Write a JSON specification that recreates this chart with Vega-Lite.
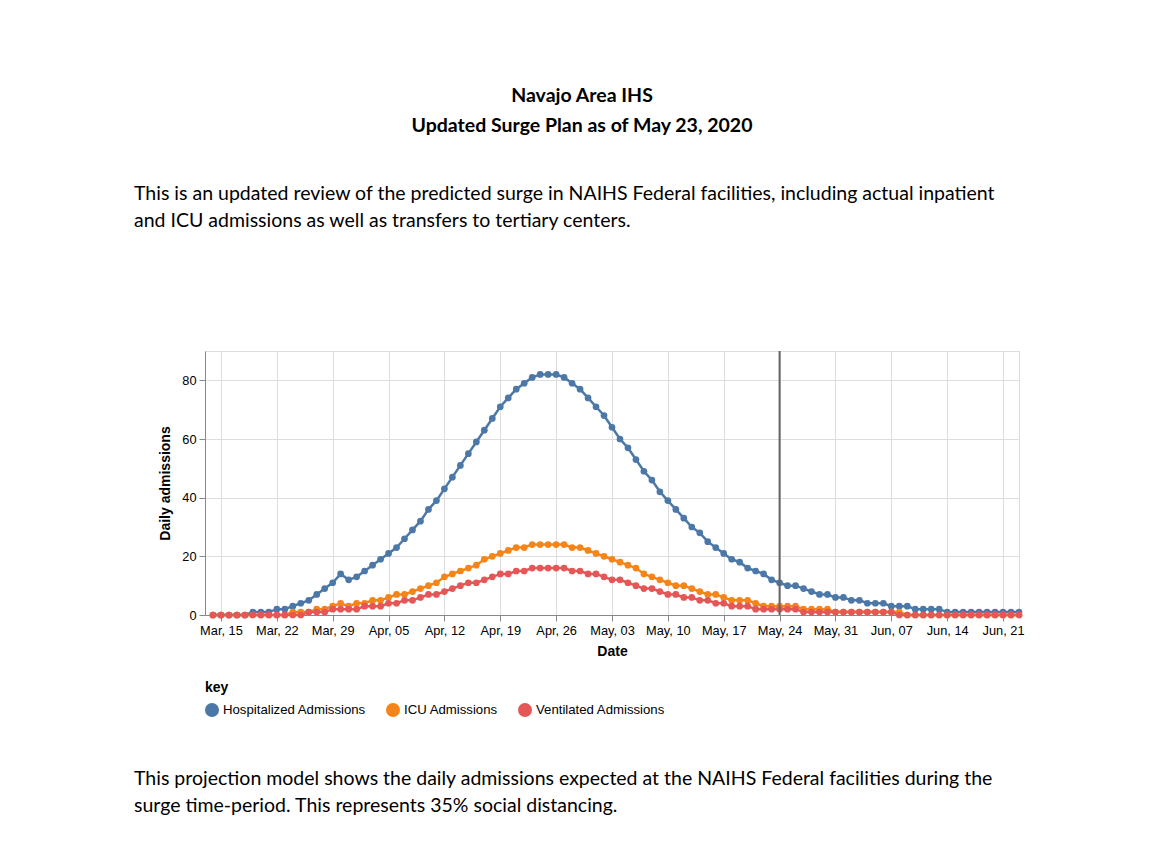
{
  "$schema": "https://vega.github.io/schema/vega-lite/v6.json",
  "background": "white",
  "padding": {"left": 133, "top": 85, "right": 10, "bottom": 10},
  "config": {
    "font": "Liberation Sans",
    "view": {"stroke": "#ddd"},
    "axis": {"labelFontSize": 12.8, "titleFontSize": 14, "tickSize": 6, "labelPadding": 3, "gridColor": "#ddd", "domainColor": "#888", "tickColor": "#888"},
    "axisX": {"titlePadding": 8},
    "axisY": {"titlePadding": 9},
    "legend": {"titleFontSize": 14, "labelFontSize": 13.2, "symbolSize": 196, "symbolType": "circle", "columnPadding": 20, "titlePadding": 8, "offset": 22}
  },
  "title": {
    "text": ["Navajo Area IHS", "Updated Surge Plan as of May 23, 2020"],
    "font": "Lato", "fontSize": 19.5, "fontWeight": "bold", "lineHeight": 30,
    "anchor": "middle", "frame": "group", "dx": -30, "offset": 47, "color": "#000"
  },
  "spacing": 51,
  "resolve": {"legend": {"color": "independent"}, "scale": {"color": "independent"}},
  "vconcat": [
    {
      "title": {
        "text": ["This is an updated review of the predicted surge in NAIHS Federal facilities, including actual inpatient", "and ICU admissions as well as transfers to tertiary centers."],
        "font": "Lato", "fontSize": 19.5, "fontWeight": "normal", "lineHeight": 27,
        "anchor": "start", "frame": "group", "dx": -71, "offset": 119, "color": "#000"
      },
      "width": 814,
      "height": 264,
      "data": {"values": [
        {"date":"2020-03-14","key":"Hospitalized Admissions","value":0},
        {"date":"2020-03-15","key":"Hospitalized Admissions","value":0},
        {"date":"2020-03-16","key":"Hospitalized Admissions","value":0},
        {"date":"2020-03-17","key":"Hospitalized Admissions","value":0},
        {"date":"2020-03-18","key":"Hospitalized Admissions","value":0},
        {"date":"2020-03-19","key":"Hospitalized Admissions","value":1},
        {"date":"2020-03-20","key":"Hospitalized Admissions","value":1},
        {"date":"2020-03-21","key":"Hospitalized Admissions","value":1},
        {"date":"2020-03-22","key":"Hospitalized Admissions","value":2},
        {"date":"2020-03-23","key":"Hospitalized Admissions","value":2},
        {"date":"2020-03-24","key":"Hospitalized Admissions","value":3},
        {"date":"2020-03-25","key":"Hospitalized Admissions","value":4},
        {"date":"2020-03-26","key":"Hospitalized Admissions","value":5},
        {"date":"2020-03-27","key":"Hospitalized Admissions","value":7},
        {"date":"2020-03-28","key":"Hospitalized Admissions","value":9},
        {"date":"2020-03-29","key":"Hospitalized Admissions","value":11},
        {"date":"2020-03-30","key":"Hospitalized Admissions","value":14},
        {"date":"2020-03-31","key":"Hospitalized Admissions","value":12},
        {"date":"2020-04-01","key":"Hospitalized Admissions","value":13},
        {"date":"2020-04-02","key":"Hospitalized Admissions","value":15},
        {"date":"2020-04-03","key":"Hospitalized Admissions","value":17},
        {"date":"2020-04-04","key":"Hospitalized Admissions","value":19},
        {"date":"2020-04-05","key":"Hospitalized Admissions","value":21},
        {"date":"2020-04-06","key":"Hospitalized Admissions","value":23},
        {"date":"2020-04-07","key":"Hospitalized Admissions","value":26},
        {"date":"2020-04-08","key":"Hospitalized Admissions","value":29},
        {"date":"2020-04-09","key":"Hospitalized Admissions","value":32},
        {"date":"2020-04-10","key":"Hospitalized Admissions","value":36},
        {"date":"2020-04-11","key":"Hospitalized Admissions","value":39},
        {"date":"2020-04-12","key":"Hospitalized Admissions","value":43},
        {"date":"2020-04-13","key":"Hospitalized Admissions","value":47},
        {"date":"2020-04-14","key":"Hospitalized Admissions","value":51},
        {"date":"2020-04-15","key":"Hospitalized Admissions","value":55},
        {"date":"2020-04-16","key":"Hospitalized Admissions","value":59},
        {"date":"2020-04-17","key":"Hospitalized Admissions","value":63},
        {"date":"2020-04-18","key":"Hospitalized Admissions","value":67},
        {"date":"2020-04-19","key":"Hospitalized Admissions","value":71},
        {"date":"2020-04-20","key":"Hospitalized Admissions","value":74},
        {"date":"2020-04-21","key":"Hospitalized Admissions","value":77},
        {"date":"2020-04-22","key":"Hospitalized Admissions","value":79},
        {"date":"2020-04-23","key":"Hospitalized Admissions","value":81},
        {"date":"2020-04-24","key":"Hospitalized Admissions","value":82},
        {"date":"2020-04-25","key":"Hospitalized Admissions","value":82},
        {"date":"2020-04-26","key":"Hospitalized Admissions","value":82},
        {"date":"2020-04-27","key":"Hospitalized Admissions","value":81},
        {"date":"2020-04-28","key":"Hospitalized Admissions","value":79},
        {"date":"2020-04-29","key":"Hospitalized Admissions","value":77},
        {"date":"2020-04-30","key":"Hospitalized Admissions","value":74},
        {"date":"2020-05-01","key":"Hospitalized Admissions","value":71},
        {"date":"2020-05-02","key":"Hospitalized Admissions","value":68},
        {"date":"2020-05-03","key":"Hospitalized Admissions","value":64},
        {"date":"2020-05-04","key":"Hospitalized Admissions","value":60},
        {"date":"2020-05-05","key":"Hospitalized Admissions","value":57},
        {"date":"2020-05-06","key":"Hospitalized Admissions","value":53},
        {"date":"2020-05-07","key":"Hospitalized Admissions","value":49},
        {"date":"2020-05-08","key":"Hospitalized Admissions","value":46},
        {"date":"2020-05-09","key":"Hospitalized Admissions","value":42},
        {"date":"2020-05-10","key":"Hospitalized Admissions","value":39},
        {"date":"2020-05-11","key":"Hospitalized Admissions","value":36},
        {"date":"2020-05-12","key":"Hospitalized Admissions","value":33},
        {"date":"2020-05-13","key":"Hospitalized Admissions","value":30},
        {"date":"2020-05-14","key":"Hospitalized Admissions","value":28},
        {"date":"2020-05-15","key":"Hospitalized Admissions","value":25},
        {"date":"2020-05-16","key":"Hospitalized Admissions","value":23},
        {"date":"2020-05-17","key":"Hospitalized Admissions","value":21},
        {"date":"2020-05-18","key":"Hospitalized Admissions","value":19},
        {"date":"2020-05-19","key":"Hospitalized Admissions","value":18},
        {"date":"2020-05-20","key":"Hospitalized Admissions","value":16},
        {"date":"2020-05-21","key":"Hospitalized Admissions","value":15},
        {"date":"2020-05-22","key":"Hospitalized Admissions","value":14},
        {"date":"2020-05-23","key":"Hospitalized Admissions","value":12},
        {"date":"2020-05-24","key":"Hospitalized Admissions","value":11},
        {"date":"2020-05-25","key":"Hospitalized Admissions","value":10},
        {"date":"2020-05-26","key":"Hospitalized Admissions","value":10},
        {"date":"2020-05-27","key":"Hospitalized Admissions","value":9},
        {"date":"2020-05-28","key":"Hospitalized Admissions","value":8},
        {"date":"2020-05-29","key":"Hospitalized Admissions","value":7},
        {"date":"2020-05-30","key":"Hospitalized Admissions","value":7},
        {"date":"2020-05-31","key":"Hospitalized Admissions","value":6},
        {"date":"2020-06-01","key":"Hospitalized Admissions","value":6},
        {"date":"2020-06-02","key":"Hospitalized Admissions","value":5},
        {"date":"2020-06-03","key":"Hospitalized Admissions","value":5},
        {"date":"2020-06-04","key":"Hospitalized Admissions","value":4},
        {"date":"2020-06-05","key":"Hospitalized Admissions","value":4},
        {"date":"2020-06-06","key":"Hospitalized Admissions","value":4},
        {"date":"2020-06-07","key":"Hospitalized Admissions","value":3},
        {"date":"2020-06-08","key":"Hospitalized Admissions","value":3},
        {"date":"2020-06-09","key":"Hospitalized Admissions","value":3},
        {"date":"2020-06-10","key":"Hospitalized Admissions","value":2},
        {"date":"2020-06-11","key":"Hospitalized Admissions","value":2},
        {"date":"2020-06-12","key":"Hospitalized Admissions","value":2},
        {"date":"2020-06-13","key":"Hospitalized Admissions","value":2},
        {"date":"2020-06-14","key":"Hospitalized Admissions","value":1},
        {"date":"2020-06-15","key":"Hospitalized Admissions","value":1},
        {"date":"2020-06-16","key":"Hospitalized Admissions","value":1},
        {"date":"2020-06-17","key":"Hospitalized Admissions","value":1},
        {"date":"2020-06-18","key":"Hospitalized Admissions","value":1},
        {"date":"2020-06-19","key":"Hospitalized Admissions","value":1},
        {"date":"2020-06-20","key":"Hospitalized Admissions","value":1},
        {"date":"2020-06-21","key":"Hospitalized Admissions","value":1},
        {"date":"2020-06-22","key":"Hospitalized Admissions","value":1},
        {"date":"2020-06-23","key":"Hospitalized Admissions","value":1},
        {"date":"2020-03-14","key":"ICU Admissions","value":0},
        {"date":"2020-03-15","key":"ICU Admissions","value":0},
        {"date":"2020-03-16","key":"ICU Admissions","value":0},
        {"date":"2020-03-17","key":"ICU Admissions","value":0},
        {"date":"2020-03-18","key":"ICU Admissions","value":0},
        {"date":"2020-03-19","key":"ICU Admissions","value":0},
        {"date":"2020-03-20","key":"ICU Admissions","value":0},
        {"date":"2020-03-21","key":"ICU Admissions","value":0},
        {"date":"2020-03-22","key":"ICU Admissions","value":0},
        {"date":"2020-03-23","key":"ICU Admissions","value":0},
        {"date":"2020-03-24","key":"ICU Admissions","value":1},
        {"date":"2020-03-25","key":"ICU Admissions","value":1},
        {"date":"2020-03-26","key":"ICU Admissions","value":1},
        {"date":"2020-03-27","key":"ICU Admissions","value":2},
        {"date":"2020-03-28","key":"ICU Admissions","value":2},
        {"date":"2020-03-29","key":"ICU Admissions","value":3},
        {"date":"2020-03-30","key":"ICU Admissions","value":4},
        {"date":"2020-03-31","key":"ICU Admissions","value":3},
        {"date":"2020-04-01","key":"ICU Admissions","value":4},
        {"date":"2020-04-02","key":"ICU Admissions","value":4},
        {"date":"2020-04-03","key":"ICU Admissions","value":5},
        {"date":"2020-04-04","key":"ICU Admissions","value":5},
        {"date":"2020-04-05","key":"ICU Admissions","value":6},
        {"date":"2020-04-06","key":"ICU Admissions","value":7},
        {"date":"2020-04-07","key":"ICU Admissions","value":7},
        {"date":"2020-04-08","key":"ICU Admissions","value":8},
        {"date":"2020-04-09","key":"ICU Admissions","value":9},
        {"date":"2020-04-10","key":"ICU Admissions","value":10},
        {"date":"2020-04-11","key":"ICU Admissions","value":11},
        {"date":"2020-04-12","key":"ICU Admissions","value":13},
        {"date":"2020-04-13","key":"ICU Admissions","value":14},
        {"date":"2020-04-14","key":"ICU Admissions","value":15},
        {"date":"2020-04-15","key":"ICU Admissions","value":16},
        {"date":"2020-04-16","key":"ICU Admissions","value":17},
        {"date":"2020-04-17","key":"ICU Admissions","value":19},
        {"date":"2020-04-18","key":"ICU Admissions","value":20},
        {"date":"2020-04-19","key":"ICU Admissions","value":21},
        {"date":"2020-04-20","key":"ICU Admissions","value":22},
        {"date":"2020-04-21","key":"ICU Admissions","value":23},
        {"date":"2020-04-22","key":"ICU Admissions","value":23},
        {"date":"2020-04-23","key":"ICU Admissions","value":24},
        {"date":"2020-04-24","key":"ICU Admissions","value":24},
        {"date":"2020-04-25","key":"ICU Admissions","value":24},
        {"date":"2020-04-26","key":"ICU Admissions","value":24},
        {"date":"2020-04-27","key":"ICU Admissions","value":24},
        {"date":"2020-04-28","key":"ICU Admissions","value":23},
        {"date":"2020-04-29","key":"ICU Admissions","value":23},
        {"date":"2020-04-30","key":"ICU Admissions","value":22},
        {"date":"2020-05-01","key":"ICU Admissions","value":21},
        {"date":"2020-05-02","key":"ICU Admissions","value":20},
        {"date":"2020-05-03","key":"ICU Admissions","value":19},
        {"date":"2020-05-04","key":"ICU Admissions","value":18},
        {"date":"2020-05-05","key":"ICU Admissions","value":17},
        {"date":"2020-05-06","key":"ICU Admissions","value":16},
        {"date":"2020-05-07","key":"ICU Admissions","value":14},
        {"date":"2020-05-08","key":"ICU Admissions","value":13},
        {"date":"2020-05-09","key":"ICU Admissions","value":12},
        {"date":"2020-05-10","key":"ICU Admissions","value":11},
        {"date":"2020-05-11","key":"ICU Admissions","value":10},
        {"date":"2020-05-12","key":"ICU Admissions","value":10},
        {"date":"2020-05-13","key":"ICU Admissions","value":9},
        {"date":"2020-05-14","key":"ICU Admissions","value":8},
        {"date":"2020-05-15","key":"ICU Admissions","value":7},
        {"date":"2020-05-16","key":"ICU Admissions","value":7},
        {"date":"2020-05-17","key":"ICU Admissions","value":6},
        {"date":"2020-05-18","key":"ICU Admissions","value":5},
        {"date":"2020-05-19","key":"ICU Admissions","value":5},
        {"date":"2020-05-20","key":"ICU Admissions","value":5},
        {"date":"2020-05-21","key":"ICU Admissions","value":4},
        {"date":"2020-05-22","key":"ICU Admissions","value":3},
        {"date":"2020-05-23","key":"ICU Admissions","value":3},
        {"date":"2020-05-24","key":"ICU Admissions","value":3},
        {"date":"2020-05-25","key":"ICU Admissions","value":3},
        {"date":"2020-05-26","key":"ICU Admissions","value":3},
        {"date":"2020-05-27","key":"ICU Admissions","value":2},
        {"date":"2020-05-28","key":"ICU Admissions","value":2},
        {"date":"2020-05-29","key":"ICU Admissions","value":2},
        {"date":"2020-05-30","key":"ICU Admissions","value":2},
        {"date":"2020-05-31","key":"ICU Admissions","value":1},
        {"date":"2020-06-01","key":"ICU Admissions","value":1},
        {"date":"2020-06-02","key":"ICU Admissions","value":1},
        {"date":"2020-06-03","key":"ICU Admissions","value":1},
        {"date":"2020-06-04","key":"ICU Admissions","value":1},
        {"date":"2020-06-05","key":"ICU Admissions","value":1},
        {"date":"2020-06-06","key":"ICU Admissions","value":1},
        {"date":"2020-06-07","key":"ICU Admissions","value":1},
        {"date":"2020-06-08","key":"ICU Admissions","value":1},
        {"date":"2020-06-09","key":"ICU Admissions","value":0},
        {"date":"2020-06-10","key":"ICU Admissions","value":0},
        {"date":"2020-06-11","key":"ICU Admissions","value":0},
        {"date":"2020-06-12","key":"ICU Admissions","value":0},
        {"date":"2020-06-13","key":"ICU Admissions","value":0},
        {"date":"2020-06-14","key":"ICU Admissions","value":0},
        {"date":"2020-06-15","key":"ICU Admissions","value":0},
        {"date":"2020-06-16","key":"ICU Admissions","value":0},
        {"date":"2020-06-17","key":"ICU Admissions","value":0},
        {"date":"2020-06-18","key":"ICU Admissions","value":0},
        {"date":"2020-06-19","key":"ICU Admissions","value":0},
        {"date":"2020-06-20","key":"ICU Admissions","value":0},
        {"date":"2020-06-21","key":"ICU Admissions","value":0},
        {"date":"2020-06-22","key":"ICU Admissions","value":0},
        {"date":"2020-06-23","key":"ICU Admissions","value":0},
        {"date":"2020-03-14","key":"Ventilated Admissions","value":0},
        {"date":"2020-03-15","key":"Ventilated Admissions","value":0},
        {"date":"2020-03-16","key":"Ventilated Admissions","value":0},
        {"date":"2020-03-17","key":"Ventilated Admissions","value":0},
        {"date":"2020-03-18","key":"Ventilated Admissions","value":0},
        {"date":"2020-03-19","key":"Ventilated Admissions","value":0},
        {"date":"2020-03-20","key":"Ventilated Admissions","value":0},
        {"date":"2020-03-21","key":"Ventilated Admissions","value":0},
        {"date":"2020-03-22","key":"Ventilated Admissions","value":0},
        {"date":"2020-03-23","key":"Ventilated Admissions","value":0},
        {"date":"2020-03-24","key":"Ventilated Admissions","value":0},
        {"date":"2020-03-25","key":"Ventilated Admissions","value":0},
        {"date":"2020-03-26","key":"Ventilated Admissions","value":1},
        {"date":"2020-03-27","key":"Ventilated Admissions","value":1},
        {"date":"2020-03-28","key":"Ventilated Admissions","value":1},
        {"date":"2020-03-29","key":"Ventilated Admissions","value":2},
        {"date":"2020-03-30","key":"Ventilated Admissions","value":2},
        {"date":"2020-03-31","key":"Ventilated Admissions","value":2},
        {"date":"2020-04-01","key":"Ventilated Admissions","value":2},
        {"date":"2020-04-02","key":"Ventilated Admissions","value":3},
        {"date":"2020-04-03","key":"Ventilated Admissions","value":3},
        {"date":"2020-04-04","key":"Ventilated Admissions","value":3},
        {"date":"2020-04-05","key":"Ventilated Admissions","value":4},
        {"date":"2020-04-06","key":"Ventilated Admissions","value":4},
        {"date":"2020-04-07","key":"Ventilated Admissions","value":5},
        {"date":"2020-04-08","key":"Ventilated Admissions","value":5},
        {"date":"2020-04-09","key":"Ventilated Admissions","value":6},
        {"date":"2020-04-10","key":"Ventilated Admissions","value":7},
        {"date":"2020-04-11","key":"Ventilated Admissions","value":7},
        {"date":"2020-04-12","key":"Ventilated Admissions","value":8},
        {"date":"2020-04-13","key":"Ventilated Admissions","value":9},
        {"date":"2020-04-14","key":"Ventilated Admissions","value":10},
        {"date":"2020-04-15","key":"Ventilated Admissions","value":11},
        {"date":"2020-04-16","key":"Ventilated Admissions","value":11},
        {"date":"2020-04-17","key":"Ventilated Admissions","value":12},
        {"date":"2020-04-18","key":"Ventilated Admissions","value":13},
        {"date":"2020-04-19","key":"Ventilated Admissions","value":14},
        {"date":"2020-04-20","key":"Ventilated Admissions","value":14},
        {"date":"2020-04-21","key":"Ventilated Admissions","value":15},
        {"date":"2020-04-22","key":"Ventilated Admissions","value":15},
        {"date":"2020-04-23","key":"Ventilated Admissions","value":16},
        {"date":"2020-04-24","key":"Ventilated Admissions","value":16},
        {"date":"2020-04-25","key":"Ventilated Admissions","value":16},
        {"date":"2020-04-26","key":"Ventilated Admissions","value":16},
        {"date":"2020-04-27","key":"Ventilated Admissions","value":16},
        {"date":"2020-04-28","key":"Ventilated Admissions","value":15},
        {"date":"2020-04-29","key":"Ventilated Admissions","value":15},
        {"date":"2020-04-30","key":"Ventilated Admissions","value":14},
        {"date":"2020-05-01","key":"Ventilated Admissions","value":14},
        {"date":"2020-05-02","key":"Ventilated Admissions","value":13},
        {"date":"2020-05-03","key":"Ventilated Admissions","value":12},
        {"date":"2020-05-04","key":"Ventilated Admissions","value":12},
        {"date":"2020-05-05","key":"Ventilated Admissions","value":11},
        {"date":"2020-05-06","key":"Ventilated Admissions","value":10},
        {"date":"2020-05-07","key":"Ventilated Admissions","value":9},
        {"date":"2020-05-08","key":"Ventilated Admissions","value":9},
        {"date":"2020-05-09","key":"Ventilated Admissions","value":8},
        {"date":"2020-05-10","key":"Ventilated Admissions","value":7},
        {"date":"2020-05-11","key":"Ventilated Admissions","value":7},
        {"date":"2020-05-12","key":"Ventilated Admissions","value":6},
        {"date":"2020-05-13","key":"Ventilated Admissions","value":6},
        {"date":"2020-05-14","key":"Ventilated Admissions","value":5},
        {"date":"2020-05-15","key":"Ventilated Admissions","value":5},
        {"date":"2020-05-16","key":"Ventilated Admissions","value":4},
        {"date":"2020-05-17","key":"Ventilated Admissions","value":4},
        {"date":"2020-05-18","key":"Ventilated Admissions","value":3},
        {"date":"2020-05-19","key":"Ventilated Admissions","value":3},
        {"date":"2020-05-20","key":"Ventilated Admissions","value":3},
        {"date":"2020-05-21","key":"Ventilated Admissions","value":2},
        {"date":"2020-05-22","key":"Ventilated Admissions","value":2},
        {"date":"2020-05-23","key":"Ventilated Admissions","value":2},
        {"date":"2020-05-24","key":"Ventilated Admissions","value":2},
        {"date":"2020-05-25","key":"Ventilated Admissions","value":2},
        {"date":"2020-05-26","key":"Ventilated Admissions","value":2},
        {"date":"2020-05-27","key":"Ventilated Admissions","value":1},
        {"date":"2020-05-28","key":"Ventilated Admissions","value":1},
        {"date":"2020-05-29","key":"Ventilated Admissions","value":1},
        {"date":"2020-05-30","key":"Ventilated Admissions","value":1},
        {"date":"2020-05-31","key":"Ventilated Admissions","value":1},
        {"date":"2020-06-01","key":"Ventilated Admissions","value":1},
        {"date":"2020-06-02","key":"Ventilated Admissions","value":1},
        {"date":"2020-06-03","key":"Ventilated Admissions","value":1},
        {"date":"2020-06-04","key":"Ventilated Admissions","value":1},
        {"date":"2020-06-05","key":"Ventilated Admissions","value":1},
        {"date":"2020-06-06","key":"Ventilated Admissions","value":1},
        {"date":"2020-06-07","key":"Ventilated Admissions","value":1},
        {"date":"2020-06-08","key":"Ventilated Admissions","value":0},
        {"date":"2020-06-09","key":"Ventilated Admissions","value":0},
        {"date":"2020-06-10","key":"Ventilated Admissions","value":0},
        {"date":"2020-06-11","key":"Ventilated Admissions","value":0},
        {"date":"2020-06-12","key":"Ventilated Admissions","value":0},
        {"date":"2020-06-13","key":"Ventilated Admissions","value":0},
        {"date":"2020-06-14","key":"Ventilated Admissions","value":0},
        {"date":"2020-06-15","key":"Ventilated Admissions","value":0},
        {"date":"2020-06-16","key":"Ventilated Admissions","value":0},
        {"date":"2020-06-17","key":"Ventilated Admissions","value":0},
        {"date":"2020-06-18","key":"Ventilated Admissions","value":0},
        {"date":"2020-06-19","key":"Ventilated Admissions","value":0},
        {"date":"2020-06-20","key":"Ventilated Admissions","value":0},
        {"date":"2020-06-21","key":"Ventilated Admissions","value":0},
        {"date":"2020-06-22","key":"Ventilated Admissions","value":0},
        {"date":"2020-06-23","key":"Ventilated Admissions","value":0}
      ]},
      "layer": [
        {
          "mark": {"type": "line", "strokeWidth": 2.5},
          "encoding": {
            "x": {"field": "date", "type": "temporal", "scale": {"type": "utc", "domain": ["2020-03-13", "2020-06-23"]},
                  "axis": {"title": "Date", "format": "%b, %d", "tickCount": {"interval": "week", "step": 1}, "labelFlush": false, "labelOverlap": false}},
            "y": {"field": "value", "type": "quantitative", "scale": {"domain": [0, 90], "nice": false},
                  "axis": {"title": "Daily admissions", "tickCount": 5}},
            "color": {"field": "key", "type": "nominal", "title": "key",
                      "scale": {"domain": ["Hospitalized Admissions", "ICU Admissions", "Ventilated Admissions"], "range": ["#4c78a8", "#f58518", "#e45756"]},
                      "legend": {"orient": "bottom", "direction": "horizontal", "symbolType": "circle",
                                 "encode": {"symbols": {"update": {"fill": {"scale": "color", "field": "value"}, "stroke": {"scale": "color", "field": "value"}, "strokeWidth": {"value": 0}, "opacity": {"value": 1}}}}}}
          }
        },
        {
          "mark": {"type": "point", "filled": true, "size": 45, "opacity": 1},
          "encoding": {
            "x": {"field": "date", "type": "temporal"},
            "y": {"field": "value", "type": "quantitative"},
            "color": {"field": "key", "type": "nominal", "title": "key",
                      "legend": {"orient": "bottom", "direction": "horizontal", "symbolType": "circle",
                                 "encode": {"symbols": {"update": {"fill": {"scale": "color", "field": "value"}, "stroke": {"scale": "color", "field": "value"}, "strokeWidth": {"value": 0}, "opacity": {"value": 1}}}}}}
          }
        },
        {
          "data": {"values": [{"date": "2020-05-24"}]},
          "mark": {"type": "rule", "color": "#666", "strokeWidth": 2},
          "encoding": {"x": {"field": "date", "type": "temporal"}}
        }
      ]
    },
    {
      "title": {
        "text": ["This projection model shows the daily admissions expected at the NAIHS Federal facilities during the", "surge time-period. This represents 35% social distancing."],
        "font": "Lato", "fontSize": 19.5, "fontWeight": "normal", "lineHeight": 27,
        "anchor": "start", "frame": "group", "dx": -71, "offset": 0, "color": "#000"
      },
      "width": 814,
      "height": 1,
      "view": {"stroke": null},
      "data": {"values": [{"date": "2020-06-01"}]},
      "mark": {"type": "point", "opacity": 0},
      "encoding": {}
    }
  ]
}
